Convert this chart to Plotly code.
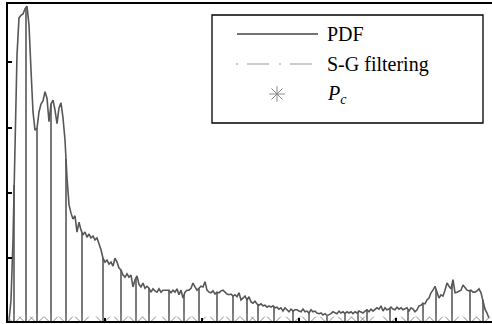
import numpy as np
import plotly.graph_objects as go

# PDF values (x1e-3) per bin
pdf = [0.4, 3.6, 12.8, 29.6, 41.1, 46.8, 47.2, 47.4, 48.2, 48.6,
       45.7, 38.8, 32.4, 29.6, 29.9, 32.4, 33.6, 34.1, 35.5, 34.5,
       30.9, 33.6, 34.2, 32.7, 30.6, 33.0, 33.8, 31.5, 28.1, 22.3,
       18.2, 16.9, 16.0, 16.5, 14.0, 15.5, 14.3, 13.6, 14.0, 13.2,
       13.7, 13.1, 13.4, 12.8, 13.1, 12.2, 11.3, 10.0, 9.4, 9.7,
       9.1, 9.4, 8.8, 10.0, 9.4, 8.5, 8.2, 7.4, 7.1, 7.6,
       7.1, 7.4, 5.6, 6.7, 7.3, 6.0, 5.6, 6.2, 5.4, 5.7,
       5.4, 4.8, 5.3, 5.0, 4.8, 5.3, 4.8, 5.1, 5.1, 5.0,
       5.1, 4.7, 5.1, 4.8, 5.3, 4.4, 5.1, 3.9, 4.8, 5.1,
       5.1, 5.4, 6.2, 5.6, 5.1, 5.4, 5.7, 5.6, 6.4, 5.1,
       4.8, 4.7, 5.0, 4.5, 4.8, 4.7, 5.0, 5.1, 4.8, 4.5,
       4.4, 4.5, 4.2, 4.4, 4.1, 4.7, 3.6, 3.9, 4.2, 3.6,
       4.1, 3.3, 3.1, 3.4, 3.0, 2.8, 3.0, 2.7, 2.8, 2.5,
       2.7, 2.5, 2.7, 2.4, 2.5, 2.2, 2.4, 1.9, 2.4, 2.1,
       1.8, 2.2, 1.9, 2.1, 2.1, 1.9, 1.8, 2.2, 1.8, 1.9,
       1.6, 2.1, 1.8, 1.9, 1.6, 1.5, 1.6, 1.3, 1.5, 1.2,
       1.3, 1.5, 1.8, 1.6, 1.5, 1.9, 1.6, 1.8, 1.5, 1.8,
       1.6, 1.8, 1.5, 1.8, 1.6, 1.9, 1.8, 1.6, 1.9, 2.1,
       1.8, 2.2, 1.9, 2.1, 2.4, 2.2, 2.7, 1.9, 2.4, 2.1,
       2.2, 2.5, 2.2, 2.1, 2.5, 2.2, 2.4, 2.1, 2.2, 2.4,
       1.9, 2.4, 2.2, 1.8, 2.1, 2.7, 2.8, 3.1, 3.0, 3.6,
       3.9, 4.7, 5.1, 5.7, 4.8, 3.9, 4.4, 4.2, 5.1, 6.2,
       5.7, 5.3, 6.7, 4.7, 4.8, 5.0, 5.1, 5.9, 5.4, 5.1,
       5.0, 5.1, 4.8, 4.8, 5.0, 5.3, 4.7, 3.6, 2.2, 1.6,
       0.8]
bins = list(range(len(pdf)))

# Pc positions (bin)
pc_bins = [2.5, 8.5, 14, 21, 28.5, 36.5, 47, 56, 63.5, 70, 80, 87.5, 95,
           104, 112, 119, 124.5, 132.5, 142, 150, 159, 168, 174.5, 179,
           190.5, 199.5, 207, 213.5, 221.5, 230.5, 237]

legend_labels = ["PDF", "S-G filtering", "<i>P</i><sub><i>c</i></sub>"]

pc_heights = np.interp(pc_bins, bins, pdf)
stem_x, stem_y = [], []
for p, h in zip(pc_bins, pc_heights):
    stem_x += [p, p, None]
    stem_y += [0, float(h), None]

W, H = 484, 317
def px(x):
    return (x - 8) / W
def py(y):
    return (321 - y) / H

MARK = "#8a8a8a"
fig = go.Figure()
fig.add_trace(go.Scatter(x=stem_x, y=stem_y, mode="lines",
                         line=dict(color="#4d4d4d", width=1.5), showlegend=False,
                         hoverinfo="skip"))
fig.add_trace(go.Scatter(x=bins, y=pdf, mode="lines",
                         line=dict(color="#575757", width=1.6), showlegend=False))
fig.add_trace(go.Scatter(x=pc_bins, y=[0] * len(pc_bins), mode="markers",
                         marker=dict(symbol="asterisk-open", size=16, color=MARK,
                                     line=dict(color=MARK, width=1)),
                         showlegend=False))
# legend marker sample on overlay axes
fig.add_trace(go.Scatter(x=[px(277)], y=[py(94)], mode="markers",
                         xaxis="x2", yaxis="y2",
                         marker=dict(symbol="asterisk-open", size=13, color=MARK,
                                     line=dict(color=MARK, width=1)),
                         showlegend=False))

shapes = [
    dict(type="rect", xref="paper", yref="paper", x0=px(212), x1=px(483),
         y0=py(123), y1=py(15), line=dict(color="black", width=1.3),
         fillcolor="white", layer="below"),
    dict(type="line", xref="paper", yref="paper", x0=px(237), x1=px(318),
         y0=py(34), y1=py(34), line=dict(color="#444444", width=1.3)),
    dict(type="line", xref="paper", yref="paper", x0=px(236), x1=px(318),
         y0=py(64), y1=py(64),
         line=dict(color="#999999", width=1.2, dash="2px,9px,22px,10px")),
]
annotations = []
for lab, yy in zip(legend_labels, [34, 64, 94]):
    annotations.append(dict(xref="paper", yref="paper", x=px(325), y=py(yy),
                            text=lab, showarrow=False, xanchor="left",
                            yanchor="middle",
                            font=dict(family="Liberation Serif", size=20,
                                      color="black")))

fig.update_layout(
    width=492, height=324,
    margin=dict(l=8, r=0, t=4, b=3),
    paper_bgcolor="white", plot_bgcolor="white",
    shapes=shapes, annotations=annotations,
    xaxis=dict(range=[-0.5, 241.5], showgrid=False, zeroline=False,
               showline=True, linecolor="black", linewidth=2, mirror=True,
               ticks="inside", ticklen=3, tickwidth=1.5, tickcolor="black",
               tick0=-0.5, dtick=48.5, showticklabels=False),
    yaxis=dict(range=[0.38, 48.93], showgrid=False, zeroline=False,
               showline=True, linecolor="black", linewidth=2, mirror=False,
               ticks="inside", ticklen=4, tickwidth=2, tickcolor="black",
               tick0=0, dtick=10, showticklabels=False),
    xaxis2=dict(overlaying="x", range=[0, 1], visible=False),
    yaxis2=dict(overlaying="y", range=[0, 1], visible=False),
)

fig.write_html("out.html", config={"displayModeBar": False},
               post_script="document.body.style.margin='0';")
